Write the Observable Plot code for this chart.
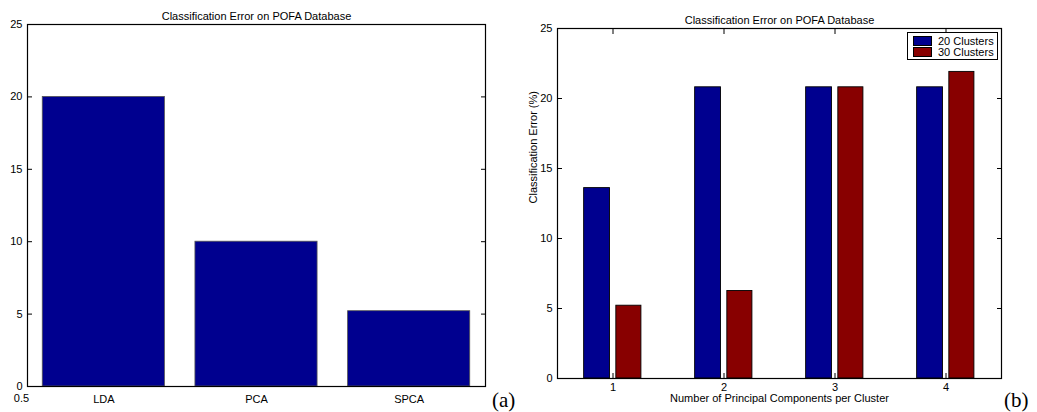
<!DOCTYPE html>
<html>
<head>
<meta charset="utf-8">
<script src="https://cdn.jsdelivr.net/npm/d3@7"></script>
<script src="https://cdn.jsdelivr.net/npm/@observablehq/plot@0.6"></script>
<style>
  html, body { margin: 0; padding: 0; background: #fff; }
  #wrap { position: relative; width: 1037px; height: 412px; overflow: hidden; font-family: "Liberation Sans", Arial, sans-serif; }
  #wrap svg { position: absolute; top: 0; }
  .tag { position: absolute; font-family: "Liberation Serif", "Times New Roman", serif; font-size: 21px; line-height: 1; }
  #legend { position: absolute; left: 907px; top: 32px; width: 89px; height: 26px; border: 1px solid #000; background: #fff; font-size: 11px; box-sizing: content-box; }
  #legend .row { position: absolute; left: 5px; height: 10px; display: flex; align-items: center; }
  #legend .sw { width: 17px; height: 8px; border: 1px solid #000; margin-right: 6px; }
</style>
</head>
<body>
<div id="wrap"></div>
<script>
// ---- data ----
const title = "Classification Error on POFA Database";
const methods = ["LDA", "PCA", "SPCA"];
const methodError = [20, 10, 5.2];

const components = [1, 2, 3, 4];
const seriesNames = ["20 Clusters", "30 Clusters"];
const error20 = [13.6, 20.8, 20.8, 20.8];
const error30 = [5.2, 6.25, 20.8, 21.9];
const seriesColors = ["#00008f", "#880000"];

const yTicks = [0, 5, 10, 15, 20, 25];
const fontFamily = "'Liberation Sans', Arial, sans-serif";
const fs = 11;

const wrap = document.getElementById("wrap");

// ---- panel (a) ----
const dataA = methods.map((m, i) => ({m, pos: i + 1, v: methodError[i]}));
const half = 0.4;
const plotA = Plot.plot({
  width: 520, height: 412,
  marginLeft: 27, marginRight: 35, marginTop: 24, marginBottom: 26,
  style: {fontFamily, fontSize: fs + "px", background: "transparent", color: "#000"},
  x: {domain: [0.5, 3.5], label: null},
  y: {domain: [0, 25], label: null},
  marks: [
    Plot.rectY(dataA, {x1: d => d.pos - half, x2: d => d.pos + half, y1: 0, y2: "v", fill: seriesColors[0], stroke: "#555", strokeWidth: 0.8}),
    Plot.frame({stroke: "#000", strokeWidth: 1.2}),
    Plot.axisY({anchor: "left", ticks: yTicks, tickSize: -5, tickPadding: 10, label: null, fontSize: fs}),
    Plot.axisY({anchor: "right", ticks: yTicks, tickSize: -5, tickFormat: () => "", label: null}),
    Plot.axisX({anchor: "bottom", ticks: [1, 2, 3], tickSize: 0, tickPadding: 9, tickFormat: d => methods[d - 1], label: null, fontSize: fs}),
    Plot.text([0.5], {x: d => d, frameAnchor: "bottom", dy: 15, dx: -6, text: d => String(d), fontSize: fs}),
    Plot.text([title], {frameAnchor: "top", dy: -12, text: d => d, fontSize: fs})
  ]
});
plotA.style.left = "0px";
wrap.appendChild(plotA);

// ---- panel (b) ----
const offsets = [[-0.26, -0.027], [0.03, 0.256]];
const dataB = [];
components.forEach((c, i) => {
  dataB.push({c, s: seriesNames[0], si: 0, v: error20[i]});
  dataB.push({c, s: seriesNames[1], si: 1, v: error30[i]});
});
const plotB = Plot.plot({
  width: 517, height: 412,
  marginLeft: 37, marginRight: 36, marginTop: 28, marginBottom: 34,
  style: {fontFamily, fontSize: fs + "px", background: "transparent", color: "#000"},
  x: {domain: [0.5, 4.5], label: null},
  y: {domain: [0, 25], label: null},
  color: {domain: seriesNames, range: seriesColors},
  marks: [
    Plot.rectY(dataB, {x1: d => d.c + offsets[d.si][0], x2: d => d.c + offsets[d.si][1], y1: 0, y2: "v", fill: "s", stroke: "#000", strokeWidth: 0.9}),
    Plot.frame({stroke: "#000", strokeWidth: 1.2}),
    Plot.axisY({anchor: "left", ticks: yTicks, tickSize: -5, tickPadding: 10, label: null, fontSize: fs}),
    Plot.axisY({anchor: "right", ticks: yTicks, tickSize: -5, tickFormat: () => "", label: null}),
    Plot.axisX({anchor: "bottom", ticks: components, tickSize: -5, tickPadding: 10, tickFormat: d => String(d), label: null, fontSize: fs}),
    Plot.axisX({anchor: "top", ticks: components, tickSize: -5, tickFormat: () => "", label: null}),
    Plot.text(["Number of Principal Components per Cluster"], {frameAnchor: "bottom", dy: 23, text: d => d, fontSize: fs}),
    Plot.text(["Classification Error (%)"], {frameAnchor: "left", dx: -24, rotate: -90, text: d => d, fontSize: fs}),
    Plot.text([title], {frameAnchor: "top", dy: -12, text: d => d, fontSize: fs})
  ]
});
plotB.style.left = "520px";
wrap.appendChild(plotB);

// ---- tags ----
const ta = document.createElement("div");
ta.className = "tag"; ta.textContent = "(a)";
ta.style.left = "492px"; ta.style.top = "390px";
wrap.appendChild(ta);
const tb = document.createElement("div");
tb.className = "tag"; tb.textContent = "(b)";
tb.style.left = "1004px"; tb.style.top = "390px";
wrap.appendChild(tb);

// ---- legend ----
const lg = document.createElement("div");
lg.id = "legend";
seriesNames.forEach((n, i) => {
  const r = document.createElement("div");
  r.className = "row";
  r.style.top = (3 + i * 11) + "px";
  const sw = document.createElement("div");
  sw.className = "sw"; sw.style.background = seriesColors[i];
  const t = document.createElement("span");
  t.textContent = n;
  r.appendChild(sw); r.appendChild(t);
  lg.appendChild(r);
});
wrap.appendChild(lg);
</script>
</body>
</html>
